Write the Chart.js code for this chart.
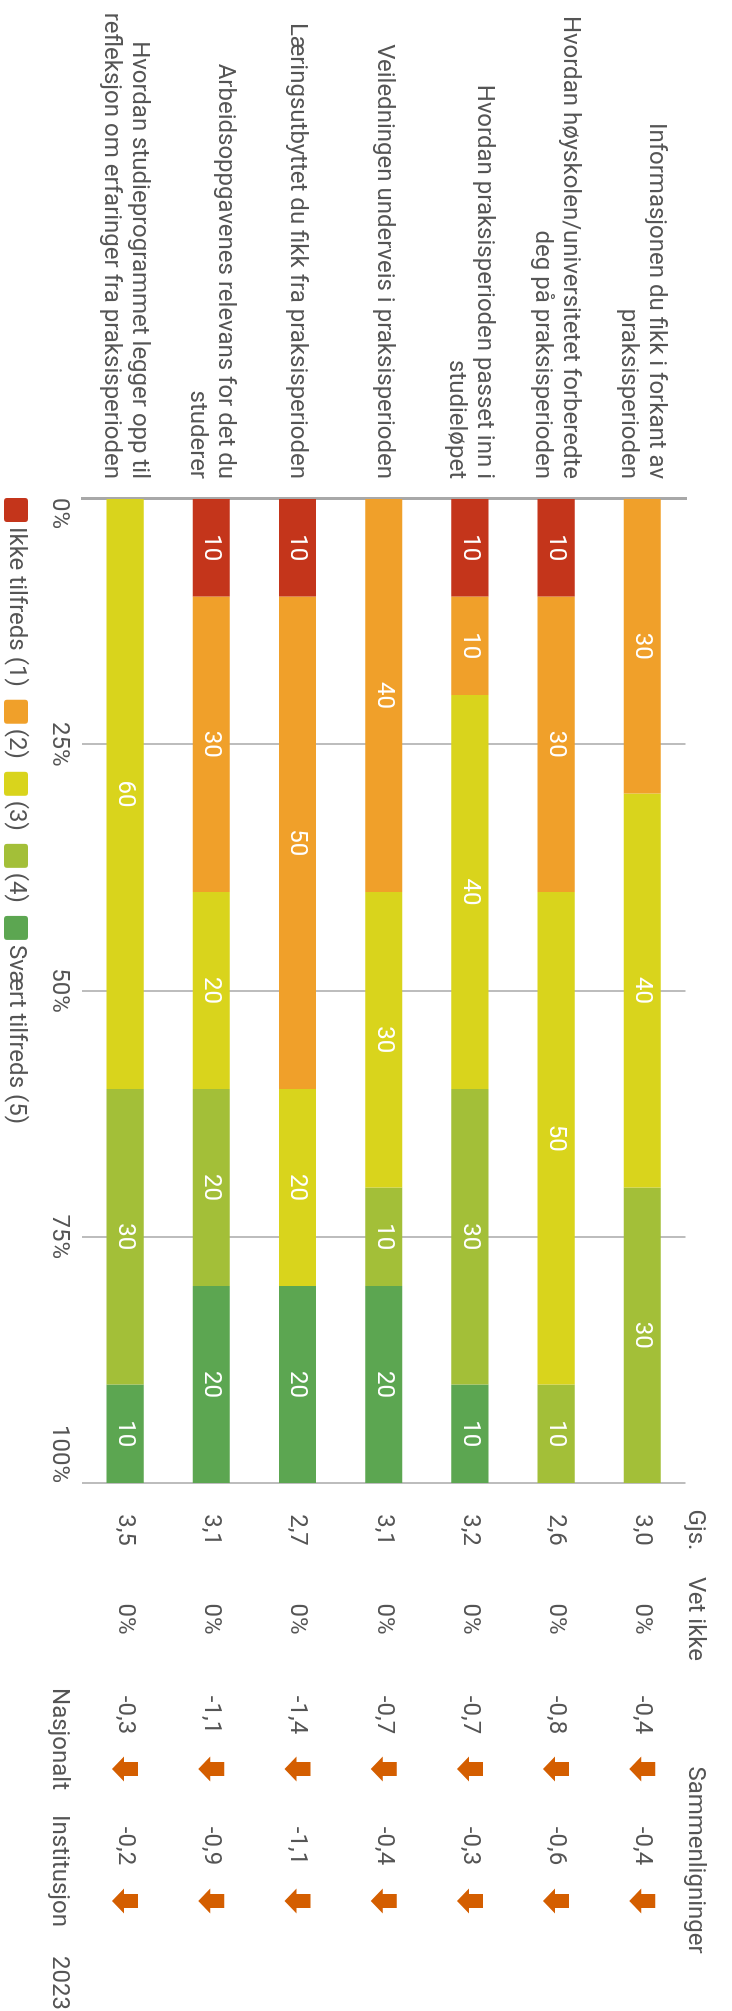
<!DOCTYPE html>
<html lang="no">
<head>
<meta charset="utf-8">
<title>Tilfredshet med praksisperioden</title>
<script src="https://cdn.jsdelivr.net/npm/chart.js@4.4.1/dist/chart.umd.min.js"></script>
<style>
  html, body { margin: 0; padding: 0; background: #fff; overflow: hidden; }
  /* the chart is laid out landscape and turned a quarter clockwise */
  #wrap {
    position: absolute; left: 0; top: 0;
    width: 2011px; height: 732px;
    transform-origin: 0 0;
    transform: translateX(732px) rotate(90deg);
  }
</style>
</head>
<body>
<div id="wrap"><canvas id="chart" width="2011" height="732"></canvas></div>
<script>
// Questions (y axis)
const questions = [
    ['Informasjonen du fikk i forkant av', 'praksisperioden'],
    ['Hvordan høyskolen/universitetet forberedte', 'deg på praksisperioden'],
    ['Hvordan praksisperioden passet inn i', 'studieløpet'],
    'Veiledningen underveis i praksisperioden',
    'Læringsutbyttet du fikk fra praksisperioden',
    ['Arbeidsoppgavenes relevans for det du', 'studerer'],
    ['Hvordan studieprogrammet legger opp til', 'refleksjon om erfaringer fra praksisperioden']
];

// Share of answers per level, in percent
const levelLabels = ['Ikke tilfreds (1)', '(2)', '(3)', '(4)', 'Svært tilfreds (5)'];
const level1 = [0, 10, 10, 0, 10, 10, 0];
const level2 = [30, 30, 10, 40, 50, 30, 0];
const level3 = [40, 50, 40, 30, 20, 20, 60];
const level4 = [30, 10, 30, 10, 0, 20, 30];
const level5 = [0, 0, 10, 20, 20, 20, 10];
const levelColors = ['#c4351b', '#f0a02a', '#d9d41c', '#a3bf38', '#5ca651'];

// Side table
const average = [3.0, 2.6, 3.2, 3.1, 2.7, 3.1, 3.5];
const dontKnow = [0, 0, 0, 0, 0, 0, 0];
const diffNational = [-0.4, -0.8, -0.7, -0.7, -1.4, -1.1, -0.3];
const diffInstitution = [-0.4, -0.6, -0.3, -0.4, -1.1, -0.9, -0.2];

const xTicks = [0, 25, 50, 75, 100];

const textColor = '#555555';
const arrowColor = '#d45e00';
const FONT = 'Roboto';

Chart.defaults.font.family = FONT;
Chart.defaults.font.size = 24;
Chart.defaults.color = textColor;

const comma = (v) => v.toFixed(1).replace('.', ',');

// white numbers in the middle of each segment
const segmentLabels = {
    id: 'segmentLabels',
    afterDatasetsDraw(chart) {
        const ctx = chart.ctx;
        ctx.save();
        ctx.font = `24px ${FONT}`;
        ctx.fillStyle = '#ffffff';
        ctx.textAlign = 'center';
        ctx.textBaseline = 'middle';
        chart.data.datasets.forEach((ds, di) => {
            chart.getDatasetMeta(di).data.forEach((bar, i) => {
                const v = ds.data[i];
                if (!v) return;
                ctx.fillText(String(v), (bar.x + bar.base) / 2, bar.y);
            });
        });
        ctx.restore();
    }
};

function drawArrow(ctx, cx, cy, down) {
    const s = down ? 1 : -1;
    ctx.beginPath();
    ctx.moveTo(cx - 7, cy - 13 * s);
    ctx.lineTo(cx + 7, cy - 13 * s);
    ctx.lineTo(cx + 7, cy + 1 * s);
    ctx.lineTo(cx + 12.5, cy + 1 * s);
    ctx.lineTo(cx, cy + 13 * s);
    ctx.lineTo(cx - 12.5, cy + 1 * s);
    ctx.lineTo(cx - 7, cy + 1 * s);
    ctx.closePath();
    ctx.fill();
}

// Gjs. / Vet ikke / Sammenligninger columns right of the plot
const sideTable = {
    id: 'sideTable',
    afterDraw(chart) {
        const {ctx, chartArea, scales} = chart;
        const r = chartArea.right;
        const col = {
            avg: r + 47, dk: r + 136,
            natVal: r + 232, natArrow: r + 286,
            instVal: r + 363, instArrow: r + 418,
            nat: r + 256, inst: r + 388, year: r + 500, group: r + 377
        };
        ctx.save();
        ctx.font = `24px ${FONT}`;
        ctx.textAlign = 'center';
        ctx.textBaseline = 'middle';
        ctx.fillStyle = textColor;

        const headY = chartArea.top - 10;
        ctx.fillText('Gjs.', col.avg, headY);
        ctx.fillText('Vet ikke', col.dk, headY);
        ctx.fillText('Sammenligninger', col.group, headY);

        questions.forEach((q, i) => {
            const y = scales.y.getPixelForValue(i);
            ctx.fillStyle = textColor;
            ctx.fillText(comma(average[i]), col.avg, y);
            ctx.fillText(dontKnow[i] + '%', col.dk, y);
            ctx.fillText(comma(diffNational[i]), col.natVal, y);
            ctx.fillText(comma(diffInstitution[i]), col.instVal, y);
            ctx.fillStyle = arrowColor;
            drawArrow(ctx, col.natArrow, y, diffNational[i] < 0);
            drawArrow(ctx, col.instArrow, y, diffInstitution[i] < 0);
        });

        const footY = scales.x.top + 9 + 14.4;
        ctx.fillStyle = textColor;
        ctx.fillText('Nasjonalt', col.nat, footY);
        ctx.fillText('Institusjon', col.inst, footY);
        ctx.fillText('2023', col.year, footY);
        ctx.restore();
    }
};

// legend row under the x axis, starting at the plot's left edge
const legendRow = {
    id: 'legendRow',
    afterDraw(chart) {
        const {ctx, chartArea} = chart;
        ctx.save();
        ctx.font = `24px ${FONT}`;
        ctx.textAlign = 'left';
        ctx.textBaseline = 'middle';
        const y = chart.height - 16;
        let x = chartArea.left;
        chart.data.datasets.forEach((ds) => {
            ctx.fillStyle = ds.backgroundColor;
            ctx.beginPath();
            ctx.roundRect(x, y - 12, 24, 24, 3);
            ctx.fill();
            x += 24 + 5;
            ctx.fillStyle = textColor;
            ctx.fillText(ds.label, x, y);
            x += ctx.measureText(ds.label).width + 13;
        });
        ctx.restore();
    }
};

const series = [level1, level2, level3, level4, level5];

new Chart(document.getElementById('chart'), {
    type: 'bar',
    data: {
        labels: questions,
        datasets: series.map((values, i) => ({
            label: levelLabels[i],
            data: values,
            backgroundColor: levelColors[i],
            borderWidth: 0,
            barPercentage: 0.5,
            categoryPercentage: 0.86
        }))
    },
    options: {
        indexAxis: 'y',
        responsive: false,
        animation: false,
        devicePixelRatio: 1,
        layout: { padding: { top: 29, right: 528, left: 0, bottom: 0 } },
        plugins: {
            legend: { display: false },
            tooltip: { enabled: false }
        },
        scales: {
            x: {
                stacked: true,
                min: 0,
                max: 100,
                afterBuildTicks: (scale) => {
                    scale.ticks = xTicks.map(v => ({ value: v }));
                },
                ticks: {
                    callback: (v) => v + '%',
                    align: 'inner',
                    padding: 9,
                    color: textColor,
                    font: { size: 24 }
                },
                grid: { color: '#bdbdbd', lineWidth: 2, drawTicks: false },
                border: { display: false },
                afterFit: (scale) => { scale.height = 82; }
            },
            y: {
                stacked: true,
                ticks: {
                    padding: 19,
                    color: textColor,
                    font: { size: 24, lineHeight: 1.15 }
                },
                grid: { display: false, drawTicks: false },
                border: { color: '#a8a8a8', width: 3 },
                afterFit: (scale) => { scale.width = 498; }
            }
        }
    },
    plugins: [segmentLabels, sideTable, legendRow]
});
</script>
</body>
</html>
